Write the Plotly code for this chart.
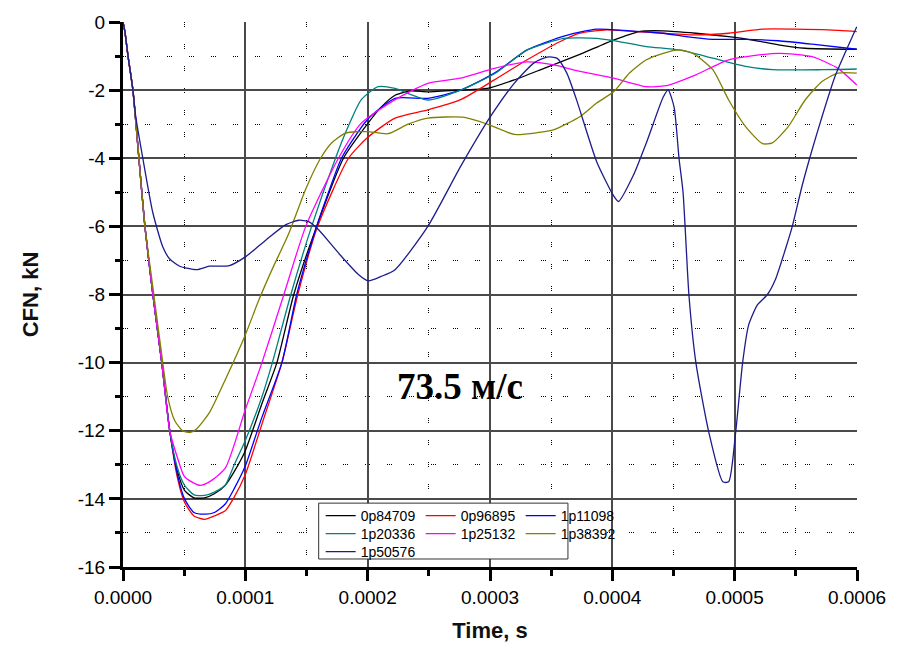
import numpy as np
import plotly.graph_objects as go

# ---------------- data (time in microseconds, CFN in kN) ----------------
names = ["0p84709", "0p96895", "1p11098", "1p20336", "1p25132", "1p38392", "1p50576"]
colors = ["#000000", "#FF0000", "#0000FF", "#008080", "#FF00FF", "#808000", "#1c1c8c"]

t_0p84709 = [0, 1.6, 4.1, 8.1, 13.0, 17.9, 24.4, 31.7, 38.2, 44.6, 50.3, 58.0, 66.6, 74.7, 83.6, 90.9,
             99.8, 113.6, 125.8, 139.6, 158.3, 180.2, 199.7, 211.0, 222.4, 235.4, 249.2, 276.0, 297.9,
             319.8, 344.2, 373.4, 401.0, 422.1, 441.6, 468.3, 495.1, 514.6, 535.7, 557.6, 599.8]
y_0p84709 = [0, -0.3, -1.0, -2.0, -4.0, -6.0, -8.0, -10.0, -12.0, -13.2, -13.75, -13.97, -13.97, -13.85,
             -13.6, -13.2, -12.6, -11.2, -10.0, -8.0, -6.0, -4.0, -3.0, -2.5, -2.15, -2.02, -2.05, -2.0,
             -1.95, -1.7, -1.36, -0.95, -0.53, -0.28, -0.26, -0.33, -0.43, -0.53, -0.67, -0.77, -0.8]

t_0p96895 = [0, 1.6, 4.1, 8.1, 13.0, 17.9, 24.4, 31.7, 38.2, 44.6, 50.3, 58.0, 66.6, 74.7, 83.6, 90.9,
             99.8, 113.6, 129.9, 142.9, 159.1, 184.3, 199.7, 222.4, 249.2, 276.0, 303.6, 330.4, 357.1,
             373.4, 395.3, 419.6, 441.6, 468.3, 495.1, 522.7, 549.5, 576.3, 599.8]
y_0p96895 = [0, -0.3, -1.0, -2.0, -4.0, -6.0, -8.0, -10.0, -12.0, -13.4, -14.1, -14.5, -14.6, -14.5,
             -14.35, -13.95, -13.3, -11.8, -10.0, -8.0, -6.0, -4.0, -3.4, -2.82, -2.58, -2.28, -1.7,
             -1.11, -0.58, -0.33, -0.23, -0.28, -0.33, -0.38, -0.33, -0.21, -0.21, -0.23, -0.28]

t_1p11098 = [0, 1.6, 4.1, 8.1, 13.0, 17.9, 24.4, 31.7, 38.2, 44.6, 50.3, 58.0, 67.4, 74.7, 83.6, 90.9,
             99.8, 113.6, 129.9, 142.0, 158.3, 168.0, 178.6, 199.7, 222.4, 249.2, 276.0, 303.6, 330.4,
             357.1, 373.4, 387.2, 414.0, 441.6, 460.2, 482.1, 508.9, 535.7, 563.3, 599.8]
y_1p11098 = [0, -0.3, -1.0, -2.0, -4.0, -6.0, -8.0, -10.0, -12.0, -13.3, -14.0, -14.4, -14.45, -14.4,
             -14.15, -13.7, -13.05, -11.6, -10.0, -8.0, -6.0, -5.0, -4.0, -2.87, -2.24, -2.24, -2.0,
             -1.5, -0.82, -0.45, -0.3, -0.21, -0.26, -0.33, -0.43, -0.51, -0.51, -0.55, -0.65, -0.8]

t_1p20336 = [0, 1.6, 4.1, 8.1, 13.0, 17.9, 24.4, 31.7, 38.2, 44.6, 50.3, 58.0, 66.6, 74.7, 83.6, 90.9,
             99.8, 113.6, 122.1, 137.2, 154.2, 173.7, 181.8, 194.8, 208.6, 222.4, 249.2, 276.0, 303.6,
             330.4, 360.4, 387.2, 401.0, 427.8, 454.5, 482.1, 508.9, 530.8, 571.4, 599.8]
y_1p20336 = [0, -0.3, -1.0, -2.0, -4.0, -6.0, -8.0, -10.0, -12.0, -13.1, -13.6, -13.88, -13.9, -13.8,
             -13.6, -13.0, -12.3, -11.0, -10.0, -8.0, -6.0, -4.0, -3.26, -2.28, -1.9, -1.95, -2.29,
             -2.0, -1.52, -0.82, -0.48, -0.48, -0.55, -0.72, -0.82, -1.06, -1.3, -1.4, -1.4, -1.38]

t_1p25132 = [0, 1.6, 4.1, 8.1, 13.0, 17.9, 24.4, 31.7, 38.2, 44.6, 50.3, 62.5, 70.6, 83.6, 99.8, 113.6,
             131.5, 149.4, 176.1, 194.8, 222.4, 249.2, 276.0, 303.6, 330.4, 352.3, 370.9, 401.0, 427.8,
             444.0, 468.3, 495.1, 535.7, 563.3, 584.4, 599.8]
y_1p25132 = [0, -0.3, -1.0, -2.0, -4.0, -6.0, -8.0, -10.0, -12.0, -12.8, -13.35, -13.6, -13.5, -13.1,
             -11.4, -10.0, -8.0, -6.0, -4.0, -2.97, -2.28, -1.8, -1.65, -1.36, -1.17, -1.26, -1.43,
             -1.65, -1.9, -1.87, -1.55, -1.11, -0.92, -1.02, -1.36, -1.85]

t_1p38392 = [0, 1.6, 4.1, 8.1, 13.0, 17.9, 25.2, 32.5, 36.5, 42.2, 48.7, 55.2, 60.1, 70.6, 83.6, 99.8,
             111.2, 121.8, 135.6, 149.4, 161.5, 170.5, 181.8, 192.4, 200.5, 216.7, 233.0, 249.2, 279.2,
             297.9, 319.8, 338.5, 352.3, 373.4, 387.2, 401.0, 414.0, 427.8, 441.6, 454.5, 465.9, 482.1,
             495.1, 508.9, 522.7, 530.8, 543.8, 557.6, 571.4, 584.4, 599.8]
y_1p38392 = [0, -0.3, -1.0, -2.0, -4.0, -6.0, -8.0, -10.0, -11.0, -11.7, -12.0, -12.05, -11.95, -11.47,
             -10.5, -9.2, -8.15, -7.27, -6.2, -4.9, -4.0, -3.55, -3.26, -3.22, -3.22, -3.28, -3.0, -2.82,
             -2.8, -3.0, -3.3, -3.25, -3.16, -2.78, -2.38, -2.05, -1.5, -1.11, -0.92, -0.82, -0.92, -1.4,
             -2.29, -3.07, -3.57, -3.55, -3.07, -2.29, -1.75, -1.5, -1.5]

t_1p50576 = [0, 1.6, 4.1, 8.1, 10.5, 16.2, 24.4, 32.5, 38.0, 46.3, 60.1, 70.6, 87.0, 100.6, 116.9, 133.1,
             143.7, 151.8, 159.9, 176.1, 192.4, 200.5, 211.0, 222.4, 249.2, 276.0, 300.3, 319.8, 336.0,
             346.6, 354.7, 362.8, 370.9, 387.2, 401.0, 405.0, 417.2, 427.8, 441.6, 445.6, 450.5, 454.5,
             457.8, 462.7, 468.3, 478.9, 490.3, 495.1, 500.8, 506.5, 511.4, 518.7, 526.8, 533.3, 541.4,
             547.1, 555.2, 563.3, 571.4, 582.0, 590.1, 599.8]
y_1p50576 = [0, -0.3, -1.0, -2.0, -2.8, -4.0, -5.6, -6.6, -6.95, -7.17, -7.27, -7.17, -7.15, -6.88, -6.4,
             -5.95, -5.82, -5.86, -6.1, -6.78, -7.41, -7.6, -7.47, -7.27, -6.0, -4.24, -2.78, -1.8, -1.2,
             -1.03, -1.06, -1.5, -2.3, -4.1, -5.1, -5.27, -4.5, -3.55, -2.2, -1.99, -2.5, -4.0, -5.0,
             -8.06, -10.0, -12.05, -13.5, -13.5, -12.05, -10.0, -8.9, -8.3, -8.0, -7.56, -6.68, -6.0,
             -4.8, -3.75, -2.78, -1.6, -0.92, -0.14]

times = [t_0p84709, t_0p96895, t_1p11098, t_1p20336, t_1p25132, t_1p38392, t_1p50576]
values = [y_0p84709, y_0p96895, y_1p11098, y_1p20336, y_1p25132, y_1p38392, y_1p50576]
legend_ids = ["legend", "legend", "legend", "legend2", "legend2", "legend2", "legend3"]

x_ticks = [0, 0.0001, 0.0002, 0.0003, 0.0004, 0.0005, 0.0006]
x_ticktext = ["0.0000", "0.0001", "0.0002", "0.0003", "0.0004", "0.0005", "0.0006"]
y_ticks = [0, -2, -4, -6, -8, -10, -12, -14, -16]
y_ticktext = ["0", "-2", "-4", "-6", "-8", "-10", "-12", "-14", "-16"]

# ---------------- figure ----------------
fig = go.Figure()
for name, t, y, c, lg in zip(names, times, values, colors, legend_ids):
    fig.add_trace(go.Scatter(
        x=np.array(t) * 1e-6, y=y, name=name, mode="lines", legend=lg,
        line=dict(color=c, width=1.3, shape="spline", smoothing=0.6)))

dots = "1px,1px,1px,1px,1px,17px"
axis_common = dict(
    showline=True, linecolor="black", linewidth=3, mirror=False,
    ticks="outside", ticklen=11, tickwidth=3, tickcolor="black",
    showgrid=True, gridcolor="#4a4a4a", gridwidth=2, zeroline=False,
    tickfont=dict(size=19, color="black"),
)
fig.update_xaxes(
    range=[0, 0.0006], tickvals=x_ticks, ticktext=x_ticktext,
    title=dict(text="<b>Time, s</b>", font=dict(size=22, color="#111111"), standoff=16),
    minor=dict(dtick=0.00005, tick0=0, ticks="outside", ticklen=6, tickwidth=3, tickcolor="black",
               showgrid=True, gridcolor="black", gridwidth=1, griddash=dots),
    **axis_common)
fig.update_yaxes(
    range=[-16, 0], tickvals=y_ticks, ticktext=y_ticktext,
    title=dict(text="<b>CFN, kN</b>", font=dict(size=22, color="#111111"), standoff=34),
    minor=dict(dtick=1, tick0=0, ticks="outside", ticklen=5, tickwidth=3, tickcolor="black",
               showgrid=True, gridcolor="black", gridwidth=1, griddash=dots),
    **axis_common)

leg_common = dict(orientation="h", xanchor="left", yanchor="middle", entrywidth=55,
                  entrywidthmode="pixels", bgcolor="rgba(0,0,0,0)", borderwidth=0,
                  font=dict(size=14, color="black", family="Arial, Liberation Sans"),
                  itemwidth=30, traceorder="normal")
fig.update_layout(
    width=898, height=651,
    margin=dict(l=123, r=36, t=22, b=83),
    paper_bgcolor="white", plot_bgcolor="white",
    font=dict(family="Arial, Liberation Sans, sans-serif", color="black"),
    legend=dict(x=0.2693, y=0.0934, **leg_common),
    legend2=dict(x=0.2693, y=0.0604, **leg_common),
    legend3=dict(x=0.2693, y=0.0275, **leg_common),
    shapes=[dict(type="rect", xref="paper", yref="paper", x0=0.2666, x1=0.6062, y0=0.0147, y1=0.1172,
                 line=dict(color="#333333", width=1), fillcolor="white", layer="above")],
    annotations=[dict(x=0.0002752, y=-10.7, xref="x", yref="y", text="<b>73.5 м/с</b>", showarrow=False,
                      font=dict(family="Times New Roman, Liberation Serif, serif", size=37, color="black"))],
)

fig.write_html("out.html")
